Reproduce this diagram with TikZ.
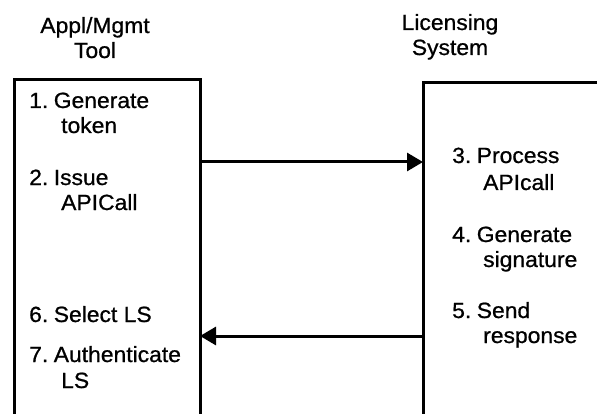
\documentclass[tikz,border=0pt]{standalone}
\usepackage{fontspec}
\setmainfont{Liberation Sans}[FakeStretch=1.04,FakeBold=0.8]
\usetikzlibrary{arrows.meta}
\begin{document}
\begin{tikzpicture}[x=1pt,y=1pt,
  lbl/.style={anchor=base west,inner sep=0pt,font=\fontsize{22}{26}\selectfont},
  ttl/.style={anchor=base,inner sep=0pt,font=\fontsize{22}{26}\selectfont},
  boxline/.style={line width=3pt,line cap=butt,line join=miter},
  arr/.style={line width=3pt,-{Triangle[length=16pt,width=18pt]},shorten >=0pt}]
\useasboundingbox (0,0) rectangle (597,413);
\fill[white] (0,0) rectangle (597,413);
% titles
\node[ttl] (t1) at (95,380) {Appl/Mgmt};
\node[ttl] (t2) at (95,355) {Tool};
\node[ttl] (t3) at (450,383) {Licensing};
\node[ttl] (t4) at (450,358) {System};
% boxes (open at bottom / right)
\draw[boxline] (14,-2) -- (14,333) -- (200,333) -- (200,-2);
\draw[boxline] (423,-2) -- (423,330) -- (600,330);
% connector endpoints
\coordinate (a1) at (200,251);
\coordinate (b1) at (423,251);
\coordinate (a2) at (200,77);
\coordinate (b2) at (423,77);
\draw[arr] (a1) -- (b1);
\draw[arr] (b2) -- (a2);
% left labels
\node[lbl] (l1a) at (29,305) {1.\kern5.5pt Generate};
\node[lbl] (l1b) at (61,280) {token};
\node[lbl] (l2a) at (29,228) {2.\kern5.5pt Issue};
\node[lbl] (l2b) at (61,203) {APICall};
\node[lbl] (l6) at (29,91) {6.\kern5.5pt Select LS};
\node[lbl] (l7a) at (29,51) {7.\kern5.5pt Authenticate};
\node[lbl] (l7b) at (61,25) {LS};
% right labels
\node[lbl] (r3a) at (452,250) {3.\kern5.5pt Process};
\node[lbl] (r3b) at (483,223) {APIcall};
\node[lbl] (r4a) at (452,171) {4.\kern5.5pt Generate};
\node[lbl] (r4b) at (483,146) {signature};
\node[lbl] (r5a) at (452,95) {5.\kern5.5pt Send};
\node[lbl] (r5b) at (483,70) {response};
\end{tikzpicture}
\end{document}
